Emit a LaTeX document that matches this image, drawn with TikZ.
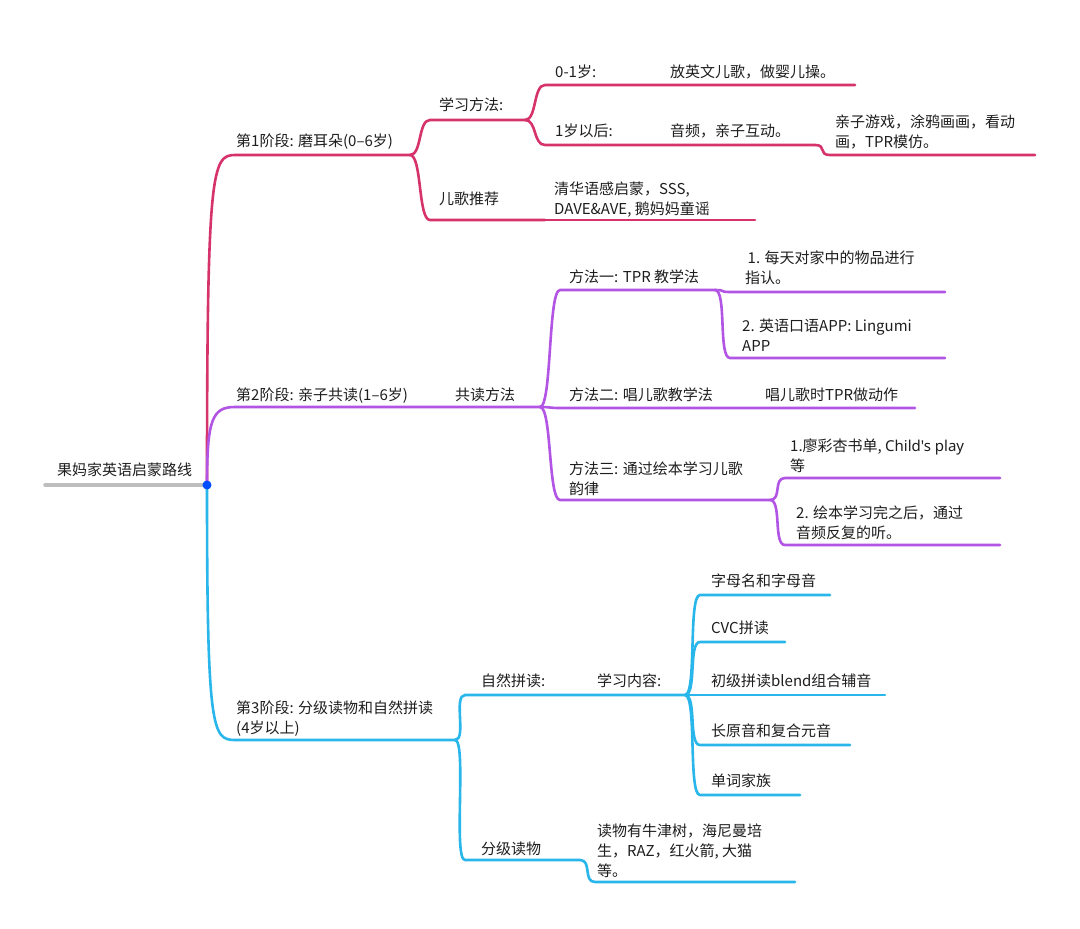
\documentclass[tikz,border=0pt]{standalone}
\usepackage{fontspec}
\setmainfont{Noto Sans CJK SC}
\newfontfamily\latinf{Noto Sans}
\definecolor{sredA}{RGB}{214,51,108}
\definecolor{spurB}{RGB}{178,84,228}
\definecolor{sbluC}{RGB}{41,182,234}
\definecolor{rootgray}{RGB}{190,190,190}
\definecolor{txtdark}{RGB}{30,30,30}
\tikzset{
  branch/.style={line width=2.6pt, line cap=round},
  lbl/.style={anchor=base west, inner sep=0pt, text=txtdark, font=\fontsize{15}{20}\selectfont, align=left},
  sbend/.style={out=0, in=180, out distance=12pt, in distance=12pt}
}
\begin{document}
\begin{tikzpicture}[x=1pt,y=-1pt]
\useasboundingbox[fill=white] (0,0) rectangle (1080,929);
% root
\coordinate (r0) at (45,485);
\coordinate (root) at (207,485);
\draw[branch, rootgray, line width=3.5pt] (r0) -- (root);
\node[lbl] (roottxt) at (57,475) {果妈家英语启蒙路线};
% stage 1
\begin{scope}[sredA]
\coordinate (s1a) at (235,155); \coordinate (s1b) at (410,155);
\draw[branch] (root) .. controls (207,170) and (212,155) .. (s1a) -- (s1b);
\node[lbl] (s1txt) at (236,146) {第1阶段: 磨耳朵(0–6岁)};
\coordinate (m1a) at (430,120); \coordinate (m1b) at (525,120);
\draw[branch] (s1b) to[sbend] (m1a) -- (m1b);
\node[lbl] (m1txt) at (439,110) {学习方法:};
\coordinate (e1a) at (430,220); \coordinate (e1b) at (545,220);
\draw[branch] (s1b) to[sbend] (e1a) -- (e1b);
\node[lbl] (e1txt) at (439,204) {儿歌推荐};
\coordinate (a0a) at (545,85); \coordinate (a0b) at (855,85);
\draw[branch] (m1b) to[sbend] (a0a) -- (a0b);
\node[lbl] (a0txt) at (555,77) {0-1岁:};
\node[lbl] (a0val) at (670,77) {放英文儿歌，做婴儿操。};
\coordinate (a1a) at (545,145); \coordinate (a1b) at (815,145);
\draw[branch] (m1b) to[sbend] (a1a) -- (a1b);
\node[lbl] (a1txt) at (555,136) {1岁以后:};
\node[lbl] (a1val) at (670,136) {音频，亲子互动。};
\coordinate (g1a) at (830,155); \coordinate (g1b) at (1035,155);
\draw[branch] (a1b) to[sbend] (g1a) -- (g1b);
\node[lbl] (g1txt) at (835,147) {亲子游戏，涂鸦画画，看动\\画，TPR模仿。};
\coordinate (e2b) at (755,220);
\draw[branch] (e1b) -- (e2b);
\node[lbl] (e2txt) at (554,214) {清华语感启蒙，SSS,\\DAVE\&AVE, 鹅妈妈童谣};
\end{scope}
% stage 2
\begin{scope}[spurB]
\coordinate (s2a) at (235,407); \coordinate (s2b) at (540,407);
\draw[branch] (root) .. controls (207,420) and (212,407) .. (s2a) -- (s2b);
\node[lbl] (s2txt) at (236,400) {第2阶段: 亲子共读(1–6岁)};
\node[lbl] (s2val) at (455,400) {共读方法};
\coordinate (f1a) at (560,290); \coordinate (f1b) at (715,290);
\draw[branch] (s2b) to[sbend] (f1a) -- (f1b);
\node[lbl] (f1txt) at (569,282) {方法一: TPR 教学法};
\coordinate (f2a) at (560,408); \coordinate (f2b) at (915,408);
\draw[branch] (s2b) to[sbend] (f2a) -- (f2b);
\node[lbl] (f2txt) at (569,400) {方法二: 唱儿歌教学法};
\node[lbl] (f2val) at (765,400) {唱儿歌时TPR做动作};
\coordinate (f3a) at (560,500); \coordinate (f3b) at (770,500);
\draw[branch] (s2b) to[sbend] (f3a) -- (f3b);
\node[lbl] (f3txt) at (569,494) {方法三: 通过绘本学习儿歌\\韵律};
\coordinate (t1a) at (730,292); \coordinate (t1b) at (945,292);
\draw[branch] (f1b) to[sbend] (t1a) -- (t1b);
\node[lbl] (t1txt) at (745,283) {\,1. 每天对家中的物品进行\\指认。};
\coordinate (t2a) at (730,358); \coordinate (t2b) at (945,358);
\draw[branch] (f1b) to[sbend] (t2a) -- (t2b);
\node[lbl] (t2txt) at (742,351) {2. 英语口语APP: Lingumi\\APP};
\coordinate (h1a) at (785,478); \coordinate (h1b) at (1000,478);
\draw[branch] (f3b) to[sbend] (h1a) -- (h1b);
\node[lbl] (h1txt) at (790,471) {1.廖彩杏书单, {\latinf Child's play}\\等};
\coordinate (h2a) at (785,545); \coordinate (h2b) at (1000,545);
\draw[branch] (f3b) to[sbend] (h2a) -- (h2b);
\node[lbl] (h2txt) at (796,538) {2. 绘本学习完之后，通过\\音频反复的听。};
\end{scope}
% stage 3
\begin{scope}[sbluC]
\coordinate (s3a) at (235,740); \coordinate (s3b) at (455,740);
\draw[branch] (root) .. controls (207,730) and (212,740) .. (s3a) -- (s3b);
\node[lbl] (s3txt) at (236,733) {第3阶段: 分级读物和自然拼读\\(4岁以上)};
\coordinate (p1a) at (465,695); \coordinate (p1b) at (685,695);
\draw[branch] (s3b) to[sbend] (p1a) -- (p1b);
\node[lbl] (p1txt) at (481,686) {自然拼读:};
\node[lbl] (p1val) at (597,686) {学习内容:};
\coordinate (r1a) at (465,860); \coordinate (r1b) at (580,860);
\coordinate (r2a) at (595,882); \coordinate (r2b) at (795,882);
\draw[branch] (s3b) to[sbend] (r1a) -- (r1b) to[sbend] (r2a) -- (r2b);
\node[lbl] (r1txt) at (481,854) {分级读物};
\node[lbl] (r2txt) at (597,876) {读物有牛津树，海尼曼培\\生，RAZ，红火箭, 大猫\\等。};
\foreach \y/\xe/\t [count=\i] in {595/830/字母名和字母音, 642/785/CVC拼读,
    695/885/初级拼读blend组合辅音, 745/850/长原音和复合元音, 795/800/单词家族}
  {
  \coordinate (q\i a) at (700,\y); \coordinate (q\i b) at (\xe,\y);
  \draw[branch] (p1b) to[sbend] (q\i a) -- (q\i b);
  \node[lbl] (q\i txt) at (711,\y-9) {\t};
  }
\end{scope}
\fill[blue!70!cyan] (root) circle (4.5);
\end{tikzpicture}
\end{document}
